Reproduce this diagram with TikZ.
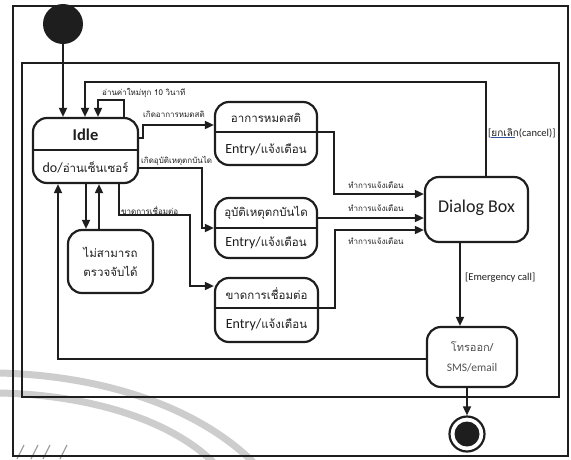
\documentclass[tikz,border=0pt]{standalone}
\usepackage{fontspec}
\setmainfont{Carlito}
\newfontfamily\thaifont[Script=Thai]{Loma}
\usetikzlibrary{arrows.meta}
\definecolor{ink}{HTML}{1E1E1E}
\definecolor{soft}{HTML}{505050}
\definecolor{washgray}{HTML}{CDCDCD}
\definecolor{streak}{HTML}{A0A0A0}
\definecolor{linkblue}{HTML}{3050A0}

\begin{document}
\begin{tikzpicture}[x=1pt,y=-1pt,
  state/.style={draw=ink, line width=2.2pt, rounded corners=14pt, inner sep=0pt},
  divider/.style={draw=ink, line width=1.8pt},
  flow/.style={draw=ink, line width=1.7pt, -{Triangle[length=9pt,width=8pt]}},
  lbl/.style={font=\thaifont\fontsize{8}{9}\selectfont, text=ink, inner sep=0pt},
  boxth/.style={font=\thaifont\fontsize{11.5}{13}\selectfont, text=ink, inner sep=0pt},
  boxen/.style={font=\fontsize{14}{16}\selectfont, text=ink, inner sep=0pt},
  guard/.style={font=\fontsize{10.5}{12}\selectfont, text=ink, inner sep=0pt}
]
\useasboundingbox (0,0) rectangle (571,459);

% faint background arcs and streaks
\draw[washgray, line width=7pt] (0,373) .. controls (110,376) and (200,410) .. (253,462);
\draw[washgray, line width=7pt] (0,393) .. controls (90,395) and (170,420) .. (213,462);
\foreach \sx in {17,31,43,60}
  \draw[streak, line width=1.2pt] (\sx,459) -- ++(7,-14);

% frames
\draw[ink, line width=1.3pt] (13,6) rectangle (568,456);
\draw[ink, line width=2.3pt] (22,63) rectangle (559,397);

% initial and final pseudo-states
\node[circle, fill=ink, minimum size=40pt, inner sep=0pt] (init) at (63,24) {};
\node[circle, draw=ink, line width=2.2pt, minimum size=35pt, inner sep=0pt] (final) at (467,434) {};
\fill[ink] (final.center) circle (12.5pt);

% Idle
\node[state, minimum width=105pt, minimum height=65pt] (idle) at (85.5,150.5) {};
\draw[divider] (idle.west |- 0,150) -- (idle.east |- 0,150);
\node[font=\bfseries\fontsize{16.5}{18}\selectfont, text=ink, inner sep=0pt] (idleName) at (85.5,135) {Idle};
\node[boxen] (idleDo) at (85.5,167) {do/{\thaifont\fontsize{11.5}{13}\selectfont อ่านเซ็นเซอร์}};

% cannot detect
\node[state, minimum width=85pt, minimum height=63pt] (cant) at (110.5,261.5) {};
\node[boxth] (cantA) at (110.5,252) {ไม่สามารถ};
\node[boxth] (cantB) at (110.5,271) {ตรวจจับได้};

% unconscious
\node[state, minimum width=102pt, minimum height=63pt] (coma) at (266,133.5) {};
\draw[divider] (coma.west |- 0,132) -- (coma.east |- 0,132);
\node[boxth] (comaName) at (266,118) {อาการหมดสติ};
\node[boxen] (comaDo) at (266,150) {Entry/{\thaifont\fontsize{11.5}{13}\selectfont แจ้งเตือน}};

% fall
\node[state, minimum width=102pt, minimum height=60pt] (fall) at (266,228) {};
\draw[divider] (fall.west |- 0,228) -- (fall.east |- 0,228);
\node[boxth] (fallName) at (266,213) {อุบัติเหตุตกบันได};
\node[boxen] (fallDo) at (266,243) {Entry/{\thaifont\fontsize{11.5}{13}\selectfont แจ้งเตือน}};

% connection lost
\node[state, minimum width=103pt, minimum height=64pt] (lost) at (266.5,310) {};
\draw[divider] (lost.west |- 0,308) -- (lost.east |- 0,308);
\node[boxth] (lostName) at (266.5,294) {ขาดการเชื่อมต่อ};
\node[boxen] (lostDo) at (266.5,325) {Entry/{\thaifont\fontsize{11.5}{13}\selectfont แจ้งเตือน}};

% dialog
\node[state, minimum width=103pt, minimum height=65pt] (dialog) at (476.5,209.5) {};
\node[font=\fontsize{18}{20}\selectfont, text=ink, inner sep=0pt] (dialogName) at (476.5,208) {Dialog Box};

% call out
\node[state, minimum width=90pt, minimum height=60pt] (call) at (472,357) {};
\node[font=\thaifont\fontsize{11}{13}\selectfont, text=soft, inner sep=0pt] (callA) at (472,347) {โทรออก/};
\node[font=\fontsize{11.5}{13}\selectfont, text=soft, inner sep=0pt] (callB) at (472,368) {SMS/email};

% transitions
\draw[flow] (init) -- (init.south |- idle.north);
\draw[flow] (idle.north -| 124,0) -- (124,100) -| (idle.north -| 98,0);
\node[lbl, anchor=west] (tick) at (102,93) {อ่านค่าใหม่ทุก 10 วินาที};

\draw[flow] (dialog.north -| 486,0) -- (486,82) -| (idle.north -| 85,0);
\node[guard, anchor=west] (cancel) at (488,133) {[{\thaifont\fontsize{10}{12}\selectfont ยกเลิก}(cancel)]};
\draw[linkblue, line width=0.6pt] ([xshift=3pt,yshift=-4.5pt]cancel.west) -- ++(24,0);

\draw[flow] (idle.east |- 0,138) -- (143,138) |- (coma.west |- 0,125);
\node[lbl, anchor=west] (toComa) at (143,114) {เกิดอาการหมดสติ};

\draw[flow] (idle.east |- 0,168) -| (202,228) -- (fall.west |- 0,228);
\node[lbl, anchor=west] (toFall) at (141,161) {เกิดอุบัติเหตุตกบันได};

\draw[flow] (idle.south -| 119,0) |- (190,215) |- (lost.west |- 0,286);
\node[lbl, anchor=west] (toLost) at (121,210) {ขาดการเชื่อมต่อ};

\draw[flow] (idle.south -| 86,0) -- (cant.north -| 86,0);
\draw[flow] (cant.north -| 99,0) -- (idle.south -| 99,0);

\draw[flow] (coma.east |- 0,132) -| (334,194) -- (dialog.west |- 0,194);
\node[lbl] (alert1) at (376,185) {ทำการแจ้งเตือน};
\draw[flow] (fall.east |- 0,218) -- (dialog.west |- 0,218);
\node[lbl] (alert2) at (376,208) {ทำการแจ้งเตือน};
\draw[flow] (lost.east |- 0,308) -| (335,230) -- (dialog.west |- 0,230);
\node[lbl] (alert3) at (376,241) {ทำการแจ้งเตือน};

\draw[flow] (dialog.south -| 460,0) -- (call.north -| 460,0);
\node[guard, anchor=west] (emerg) at (465,278) {[Emergency call]};

\draw[flow] (call.west |- 0,359) -| (idle.south -| 58,0);
\draw[flow] (call.south -| 467,0) -- (final.north);
\end{tikzpicture}
\end{document}
